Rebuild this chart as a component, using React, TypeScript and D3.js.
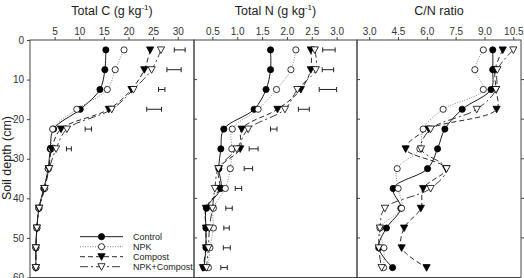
import { useCallback, useEffect, useRef } from 'react';
import * as d3 from 'd3';

// soil layer midpoints (cm)
const depth = [2.5, 7.5, 12.5, 17.5, 22.5, 27.5, 32.5, 37.5, 42.5, 47.5, 52.5, 57.5];

const treatments = ['Control', 'NPK', 'Compost', 'NPK+Compost'];

// Total C (g/kg)
const cControl = [15.4, 15.2, 14.2, 10.2, 4.8, 4.1, 3.7, 2.8, 1.8, 1.4, 1.2, 1.2];
const cNpk = [19.1, 17.3, 15.7, 9.5, 4.6, 4.3, 3.7, 3.0, 1.8, 1.4, 1.2, 1.2];
const cCompost = [24.4, 23.2, 20.6, 16.0, 6.3, 4.4, 3.8, 2.9, 1.8, 1.4, 1.2, 1.2];
const cNpkCompost = [26.6, 24.7, 21.0, 16.6, 7.5, 5.3, 3.9, 3.0, 1.9, 1.4, 1.2, 1.2];
const cLsdPos = [30.4, 29.25, 26.75, 25.2, 11.85, 7.9];
const cLsd = [2.2, 2.9, 1.3, 3.0, 1.3, 1.0];

// Total N (g/kg)
const nControl = [1.67, 1.67, 1.58, 1.34, 0.73, 0.67, 0.63, 0.67, 0.38, 0.37, 0.37, 0.33];
const nNpk = [2.18, 2.08, 1.79, 1.42, 0.9, 0.89, 0.86, 0.76, 0.52, 0.52, 0.45, 0.42];
const nCompost = [2.48, 2.48, 2.28, 1.81, 1.09, 1.06, 0.63, 0.64, 0.37, 0.37, 0.37, 0.31];
const nNpkCompost = [2.56, 2.58, 2.21, 1.96, 1.22, 0.99, 0.62, 0.55, 0.5, 0.44, 0.42, 0.38];
const nLsdPos = [2.845, 2.825, 2.825, 2.34, 1.735, 1.33, 1.225, 1.025, 0.835, 0.785, 0.79, 0.735];
const nLsd = [0.25, 0.23, 0.35, 0.22, 0.13, 0.18, 0.17, 0.13, 0.13, 0.11, 0.14, 0.13];

// C/N ratio
const rControl = [9.43, 9.43, 9.34, 7.84, 6.94, 6.56, 6.04, 4.25, 4.65, 3.9, 3.5, 4.22];
const rNpk = [8.94, 8.5, 8.94, 6.85, 5.81, 5.64, 4.46, 4.51, 4.69, 3.56, 3.77, 3.75];
const rCompost = [9.95, 9.55, 9.6, 9.63, 6.1, 4.9, 7.0, 5.81, 5.69, 4.82, 4.69, 5.99];
const rNpkCompost = [10.5, 9.67, 9.6, 8.6, 6.2, 5.7, 7.03, 6.2, 3.82, 3.56, 3.5, 3.65];

const depthTicks = [0, 10, 20, 30, 40, 50, 60];
const cTicks = [5, 10, 15, 20, 25, 30];
const nTicks = [0.5, 1.0, 1.5, 2.0, 2.5, 3.0];
const rTicks = [3.0, 4.5, 6.0, 7.5, 9.0, 10.5];

const FONT = '"Liberation Sans", Arial, sans-serif';

const styles = [
  { dash: null, color: '#000', fill: '#000', tri: false },
  { dash: '1,1.5', color: '#777', fill: '#fff', tri: false },
  { dash: '5,3', color: '#111', fill: '#000', tri: true },
  { dash: '8,3,2,3', color: '#222', fill: '#fff', tri: true },
];

export default function App() {
  const ref = useRef<SVGSVGElement>(null);

  const draw = useCallback(() => {
    const node = ref.current;
    if (!node) return;
    const svg = d3.select(node);
    svg.selectAll('*').remove();

    const top = 40,
      bottom = 277.5;
    const y = d3.scaleLinear().domain([0, 60]).range([top, bottom]);

    const panels = [
      {
        title: 'Total C (g kg',
        sup: true,
        x: d3.scaleLinear().domain([0, 33.3]).range([30, 194]),
        ticks: cTicks,
        fmt: d3.format('d'),
        series: [cControl, cNpk, cCompost, cNpkCompost],
        lsdPos: cLsdPos,
        lsd: cLsd,
      },
      {
        title: 'Total N (g kg',
        sup: true,
        x: d3.scaleLinear().domain([0.13, 3.41]).range([194, 357]),
        ticks: nTicks,
        fmt: d3.format('.1f'),
        series: [nControl, nNpk, nCompost, nNpkCompost],
        lsdPos: nLsdPos,
        lsd: nLsd,
      },
      {
        title: 'C/N ratio',
        sup: false,
        x: d3.scaleLinear().domain([2.37, 10.9]).range([357, 521]),
        ticks: rTicks,
        fmt: d3.format('.1f'),
        series: [rControl, rNpk, rCompost, rNpkCompost],
        lsdPos: [] as number[],
        lsd: [] as number[],
      },
    ];

    const triPath = 'M-3.6,-3L3.6,-3L0,3.6Z';

    panels.forEach((p, pi) => {
      const [x0, x1] = p.x.range();
      const g = svg.append('g');

      // title
      const t = g
        .append('text')
        .attr('x', (x0 + x1) / 2)
        .attr('y', 15)
        .attr('text-anchor', 'middle')
        .attr('font-family', FONT)
        .attr('font-size', 12.5)
        .attr('fill', '#222')
        .text(p.title);
      if (p.sup) {
        t.append('tspan').attr('font-size', 8).attr('dy', -5).text('-1');
        t.append('tspan').attr('dy', 5).text(')');
      }

      // frame
      g.append('rect')
        .attr('x', x0)
        .attr('y', top)
        .attr('width', x1 - x0)
        .attr('height', bottom - top)
        .attr('fill', 'none')
        .attr('stroke', '#444')
        .attr('stroke-width', 1);

      // top axis
      const axis = d3
        .axisTop(p.x)
        .tickValues(p.ticks)
        .tickFormat((d) => p.fmt(d as number))
        .tickSize(3)
        .tickPadding(2);
      const ag = g.append('g').attr('transform', `translate(0,${top})`).call(axis);
      ag.select('.domain').remove();
      ag.selectAll('line').attr('stroke', '#444');
      ag.selectAll('text')
        .attr('font-family', FONT)
        .attr('font-size', 10)
        .attr('fill', '#333');

      // depth ticks on panel borders
      const inner = depthTicks.slice(1, -1);
      if (pi === 0) {
        const la = d3.axisLeft(y).tickValues(depthTicks).tickSize(3).tickPadding(3);
        const lg = g.append('g').attr('transform', `translate(${x0},0)`).call(la);
        lg.select('.domain').remove();
        lg.selectAll('line').attr('stroke', '#444');
        lg.selectAll('text')
          .attr('font-family', FONT)
          .attr('font-size', 10)
          .attr('fill', '#333');
      }
      g.selectAll('line.rt')
        .data(inner)
        .join('line')
        .attr('class', 'rt')
        .attr('x1', x1)
        .attr('x2', x1 + 3)
        .attr('y1', (d) => y(d))
        .attr('y2', (d) => y(d))
        .attr('stroke', '#444');

      // LSD bars
      const eg = g.append('g').attr('stroke', '#222').attr('stroke-width', 1);
      p.lsd.forEach((w, i) => {
        const cy = y(depth[i]);
        const a = p.x(p.lsdPos[i] - w / 2),
          b = p.x(p.lsdPos[i] + w / 2);
        eg.append('line').attr('x1', a).attr('x2', b).attr('y1', cy).attr('y2', cy);
        eg.append('line').attr('x1', a).attr('x2', a).attr('y1', cy - 2.5).attr('y2', cy + 2.5);
        eg.append('line').attr('x1', b).attr('x2', b).attr('y1', cy - 2.5).attr('y2', cy + 2.5);
      });

      // lines
      const line = d3
        .line<number>()
        .x((d) => p.x(d))
        .y((_, i) => y(depth[i]))
        .curve(d3.curveCatmullRom.alpha(0.5));

      p.series.forEach((s, si) => {
        const st = styles[si];
        g.append('path')
          .attr('d', line(s))
          .attr('fill', 'none')
          .attr('stroke', st.color)
          .attr('stroke-width', 0.9)
          .attr('stroke-dasharray', st.dash);
      });

      // markers
      p.series.forEach((s, si) => {
        const st = styles[si];
        const mg = g.append('g');
        s.forEach((v, i) => {
          const cx = p.x(v),
            cy = y(depth[i]);
          if (st.tri) {
            mg.append('path')
              .attr('d', triPath)
              .attr('transform', `translate(${cx},${cy})`)
              .attr('fill', st.fill)
              .attr('stroke', '#000')
              .attr('stroke-width', 0.8);
          } else {
            mg.append('circle')
              .attr('cx', cx)
              .attr('cy', cy)
              .attr('r', 3.1)
              .attr('fill', st.fill)
              .attr('stroke', '#000')
              .attr('stroke-width', 0.8);
          }
        });
      });
    });

    // y label
    svg
      .append('text')
      .attr('transform', 'translate(11,158) rotate(-90)')
      .attr('text-anchor', 'middle')
      .attr('font-family', FONT)
      .attr('font-size', 12.5)
      .attr('fill', '#222')
      .text('Soil depth (cm)');

    // legend
    const lg = svg.append('g');
    treatments.forEach((name, i) => {
      const st = styles[i];
      const ly = 236.7 + i * 10;
      lg.append('line')
        .attr('x1', 80)
        .attr('x2', 123)
        .attr('y1', ly)
        .attr('y2', ly)
        .attr('stroke', st.color)
        .attr('stroke-width', 0.9)
        .attr('stroke-dasharray', st.dash);
      if (st.tri) {
        lg.append('path')
          .attr('d', triPath)
          .attr('transform', `translate(101.5,${ly})`)
          .attr('fill', st.fill)
          .attr('stroke', '#000')
          .attr('stroke-width', 0.8);
      } else {
        lg.append('circle')
          .attr('cx', 101.5)
          .attr('cy', ly)
          .attr('r', 3.1)
          .attr('fill', st.fill)
          .attr('stroke', '#000')
          .attr('stroke-width', 0.8);
      }
      lg.append('text')
        .attr('x', 133)
        .attr('y', ly + 3.3)
        .attr('font-family', FONT)
        .attr('font-size', 9)
        .attr('fill', '#222')
        .text(name);
    });
  }, []);

  useEffect(() => {
    draw();
  }, [draw]);

  return (
    <svg
      ref={ref}
      width={524}
      height={278}
      style={{ position: 'absolute', left: 0, top: 0, background: '#fff' }}
    />
  );
}
